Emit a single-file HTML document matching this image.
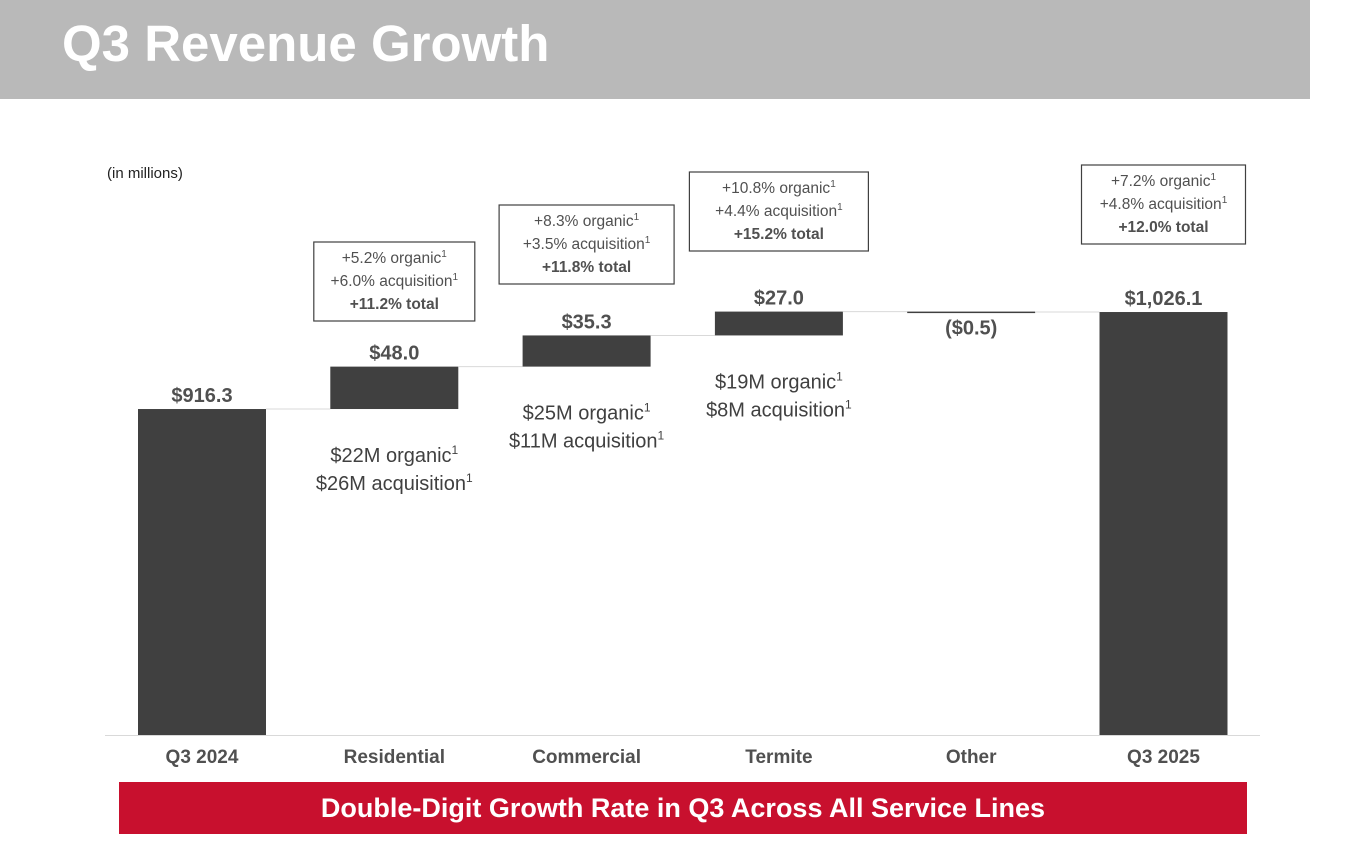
<!DOCTYPE html>
<html><head><meta charset="utf-8">
<style>
body{margin:0;width:1358px;height:857px;background:#fff;position:relative;overflow:hidden;font-family:"Liberation Sans",sans-serif;}
#title-bar{position:absolute;left:0;top:0;width:1310px;height:99px;background:#b9b9b9;}
#title-bar span{position:absolute;left:62px;top:14px;font-size:51px;font-weight:bold;color:#fff;}
#banner{position:absolute;left:119px;top:782px;width:1128px;height:52px;background:#c8102e;color:#fff;font-weight:bold;font-size:27px;text-align:center;line-height:52px;}
svg text{font-family:"Liberation Sans",sans-serif;}
</style></head><body>
<div id="title-bar"><span>Q3 Revenue Growth</span></div>
<svg id="chart" width="1358" height="857" style="position:absolute;left:0;top:0">
<text x="107" y="178" font-size="15" fill="#222">(in millions)</text>
</svg>
<div id="banner">Double-Digit Growth Rate in Q3 Across All Service Lines</div>
<script>
const categories=["Q3 2024","Residential","Commercial","Termite","Other","Q3 2025"];
const deltas=[916.3,48.0,35.3,27.0,-0.5,1026.1];
const isTotal=[true,false,false,false,false,true];
const valueLabels=["$916.3","$48.0","$35.3","$27.0","($0.5)","$1,026.1"];
const subLabels=[[],["$22M organic","$26M acquisition"],["$25M organic","$11M acquisition"],["$19M organic","$8M acquisition"],[],[]];
const boxes=[null,["+5.2% organic","+6.0% acquisition","+11.2% total"],["+8.3% organic","+3.5% acquisition","+11.8% total"],["+10.8% organic","+4.4% acquisition","+15.2% total"],null,["+7.2% organic","+4.8% acquisition","+12.0% total"]];
const boxTops=[0,242,205,172,0,165];
const boxWidths=[0,161,175,179,0,164];
const svg=document.getElementById('chart');
const NS='http://www.w3.org/2000/svg';
const base=735,k=0.8834,vmin=547.3;
const y=v=>base-(v-vmin)*k;
const xc=i=>202+i*192.3;
const bw=128;
function mk(t,a){const e=document.createElementNS(NS,t);for(const n in a)e.setAttribute(n,a[n]);svg.appendChild(e);return e;}
const ax=mk('line',{x1:105,x2:1260,y1:base+0.5,y2:base+0.5,stroke:'#d9d9d9','stroke-width':1});


let run=0;
categories.forEach((c,i)=>{
  let lo,hi;
  if(isTotal[i]){lo=vmin;hi=deltas[i];run=deltas[i];}
  else{const s=run;run+=deltas[i];lo=Math.min(s,run);hi=Math.max(s,run);}
  const top=y(hi),h=Math.max(1.5,y(lo)-y(hi));
  const r=mk('rect',{x:xc(i)-bw/2,y:top,width:bw,height:h,fill:'#404040'});
  
  
  if(i<categories.length-1){
    const ln=mk('line',{x1:xc(i)+bw/2,x2:xc(i+1)-bw/2,y1:y(run),y2:y(run),stroke:'#d9d9d9','stroke-width':1});
    
    
  }
  const neg=deltas[i]<0;
  const vl=mk('text',{x:xc(i),y:neg?top+23:top-7,'font-size':20,'font-weight':'bold',fill:'#505050','text-anchor':'middle'});
  vl.textContent=valueLabels[i];
  
  
  const cl=mk('text',{x:xc(i),y:763,'font-size':19,'font-weight':'bold',fill:'#505050','text-anchor':'middle'});
  cl.textContent=c;
  
  
  subLabels[i].forEach((s,j)=>{
    const t=mk('text',{x:xc(i),y:y(lo)+53+j*28,'font-size':20,fill:'#404040','text-anchor':'middle'});
    t.innerHTML=s+'<tspan font-size="12" dy="-8">1</tspan>';
    
    
  });
  if(boxes[i]){
    const bx=mk('rect',{x:xc(i)-boxWidths[i]/2,y:boxTops[i],width:boxWidths[i],height:79,fill:'#fff',stroke:'#404040','stroke-width':1.2});
    
    
    boxes[i].forEach((s,j)=>{
      const t=mk('text',{x:xc(i),y:boxTops[i]+21+j*23,'font-size':15.5,fill:'#505050','text-anchor':'middle','font-weight':j==2?'bold':'normal'});
      t.innerHTML=j<2?s+'<tspan font-size="10" dy="-6">1</tspan>':s;
      
      
    });
  }
});
</script>
</body></html>
